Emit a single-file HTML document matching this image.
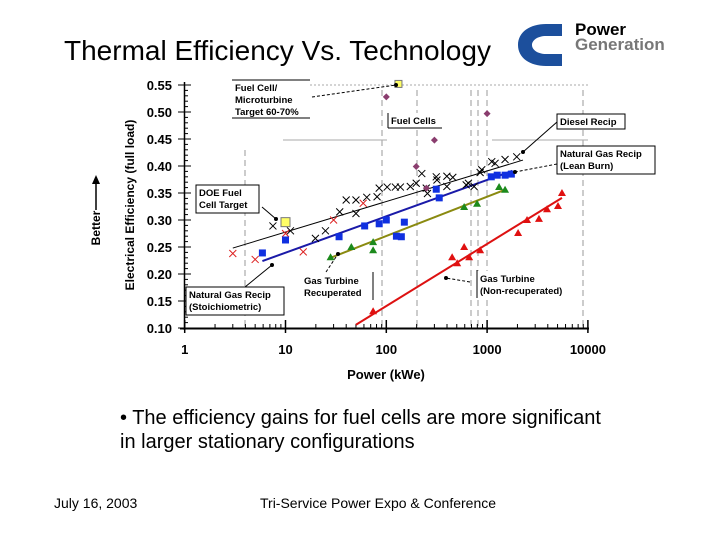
<!DOCTYPE html>
<html><head><meta charset="utf-8"><style>
body{margin:0;background:#fff;}
#wrap{position:relative;width:720px;height:540px;overflow:hidden;font-family:"Liberation Sans",Arial,sans-serif;}
.t{position:absolute;white-space:nowrap;}
</style></head><body>
<div id="wrap">
<div class="t" style="left:64px;top:35px;font-size:28px;">Thermal Efficiency Vs. Technology</div>
<svg style="position:absolute;left:516px;top:20px" width="170" height="48">
<path d="M30 4 C14 4 2 12 2 25 C2 38 14 46 30 46 L46 46 L46 34 L30 34 C22 34 16 30 16 25 C16 20 22 16 30 16 L46 16 L46 4 Z" fill="#1c4f9c"/>
<text x="59" y="15" font-family="Liberation Sans" font-weight="bold" font-size="17" fill="#000">Power</text>
<text x="59" y="30" font-family="Liberation Sans" font-weight="bold" font-size="17" fill="#777">Generation</text>
</svg>
<svg id="chart" style="position:absolute;left:0;top:0" width="720" height="400"></svg>
<div class="t" style="left:120px;top:406px;font-size:20px;line-height:24px;">• The efficiency gains for fuel cells are more significant<br>in larger stationary configurations</div>
<div class="t" style="left:54px;top:495px;font-size:14px;">July 16, 2003</div>
<div class="t" style="left:260px;top:495px;font-size:14px;">Tri-Service Power Expo &amp; Conference</div>
</div>
<script>
const xTicks=[1,10,100,1000,10000];
const yTicks=[0.10,0.15,0.20,0.25,0.30,0.35,0.40,0.45,0.50,0.55];
const blueP=[5.9,10,34,61,85,100,151,126,141,313,335,1100,1260,1510,1740];
const blueE=[0.239,0.263,0.269,0.289,0.293,0.300,0.296,0.270,0.269,0.357,0.341,0.380,0.383,0.383,0.385];
const greenP=[28,45,74,74,592,795,1315,1507];
const greenE=[0.231,0.250,0.259,0.244,0.324,0.330,0.361,0.356];
const redP=[74,450,505,592,664,853,2030,2490,3270,3930,5050,5530];
const redE=[0.131,0.231,0.220,0.250,0.231,0.244,0.276,0.300,0.302,0.320,0.326,0.350];
const dieselP=[7.5,11.2,19.8,24.9,34.5,40,50,50,64,81,85,102,123,138,173,198,225,249,256,313,318,399,399,457,620,653,743,853,885,1112,1200,1507,1968];
const dieselE=[0.289,0.280,0.266,0.280,0.315,0.337,0.312,0.337,0.342,0.343,0.359,0.361,0.361,0.361,0.362,0.368,0.386,0.359,0.349,0.380,0.374,0.381,0.362,0.379,0.365,0.368,0.362,0.388,0.393,0.408,0.405,0.412,0.417];
const stoichP=[3,5,10,15,30,59];
const stoichE=[0.238,0.227,0.275,0.241,0.300,0.331];
const fcP=[100,1000,300,198,250];
const fcE=[0.528,0.497,0.448,0.399,0.359];
const targetP=[132,10];
const targetE=[0.552,0.296];
const lineBlueP=[5.9,1780],lineBlueE=[0.224,0.391];
const lineGreenP=[28,1500],lineGreenE=[0.230,0.356];
const lineRedP=[50,5530],lineRedE=[0.106,0.341];
const lineDieselP=[3,2270],lineDieselE=[0.248,0.411];

const NS='http://www.w3.org/2000/svg';
const svg=document.getElementById('chart');
const X=p=>184.7+100.8*Math.log10(p);
const Y=e=>85+(0.55-e)*540;
function mk(tag,at,parent){const el=document.createElementNS(NS,tag);for(const k in at)el.setAttribute(k,at[k]);(parent||svg).appendChild(el);return el;}
[[245,150,328],[382,90,328],[417,90,328],[471,90,328],[478,90,328],[487,90,328],[583,90,328]].forEach(v=>{
 const l=mk('line',{x1:v[0],x2:v[0],y1:v[1],y2:v[2],stroke:'#999','stroke-dasharray':'6,4','stroke-width':1});
 });
[[310,588,85],[283,387,140],[492,588,140]].forEach(h=>{const l=mk('line',{x1:h[0],x2:h[1],y1:h[2],y2:h[2],stroke:'#aaa','stroke-width':1,'stroke-dasharray':h[2]==85?'2,2':''});
 });
let a=mk('line',{x1:184.5,x2:184.5,y1:82,y2:330,stroke:'#000','stroke-width':1.5});
a=mk('line',{x1:180,x2:589,y1:328.5,y2:328.5,stroke:'#000','stroke-width':2});
for(let e=0.10;e<=0.5501;e+=0.01){const y=Y(e);const maj=Math.abs(e*20-Math.round(e*20))<1e-6;mk('line',{x1:maj?178:184,x2:maj?191:188,y1:y,y2:y,stroke:'#000','stroke-width':1});}
yTicks.forEach(v=>{const t=mk('text',{x:172,y:Y(v)+5,'text-anchor':'end','font-size':13,'font-weight':'bold','font-family':'Liberation Sans'});t.textContent=v.toFixed(2);
 });
for(let d=0;d<4;d++)for(let m=2;m<10;m++){const x=X(m*Math.pow(10,d));mk('line',{x1:x,x2:x,y1:324,y2:328,stroke:'#000'});}
xTicks.forEach(v=>{const x=X(v);mk('line',{x1:x,x2:x,y1:320,y2:333,stroke:'#000','stroke-width':1.5});
 const t=mk('text',{x:x,y:354,'text-anchor':'middle','font-size':13,'font-weight':'bold','font-family':'Liberation Sans'});t.textContent=v;
 });
let t=mk('text',{x:386,y:379,'text-anchor':'middle','font-size':13,'font-weight':'bold','font-family':'Liberation Sans'});t.textContent='Power (kWe)';

t=mk('text',{x:0,y:0,'text-anchor':'middle','font-size':12,'font-weight':'bold','font-family':'Liberation Sans',transform:'translate(134,205) rotate(-90)'});t.textContent='Electrical Efficiency (full load)';

t=mk('text',{x:0,y:0,'text-anchor':'middle','font-size':12,'font-weight':'bold','font-family':'Liberation Sans',transform:'translate(100,228) rotate(-90)'});t.textContent='Better';

mk('line',{x1:96,x2:96,y1:210,y2:180,stroke:'#000','stroke-width':1.5});mk('path',{d:'M92 184 L96 175 L100 184 Z',fill:'#000'});
function tl(P,E,c,w,name){const l=mk('line',{x1:X(P[0]),y1:Y(E[0]),x2:X(P[1]),y2:Y(E[1]),stroke:c,'stroke-width':w});}
tl(lineDieselP,lineDieselE,'#000',1,'trend-diesel');
tl(lineBlueP,lineBlueE,'#1a1aa8',2,'trend-lean-burn');
tl(lineGreenP,lineGreenE,'#8a8a10',2,'trend-recuperated');
tl(lineRedP,lineRedE,'#dd1111',2,'trend-non-recuperated');
function xs(P,E,c,name){P.forEach((p,i)=>{const x=X(p),y=Y(E[i]);const g=mk('path',{d:`M${x-3.5} ${y-3.5}L${x+3.5} ${y+3.5}M${x-3.5} ${y+3.5}L${x+3.5} ${y-3.5}`,stroke:c,'stroke-width':1});
 });}
xs(dieselP,dieselE,'#000','diesel-point');
xs(stoichP,stoichE,'#dd2222','stoich-point');
blueP.forEach((p,i)=>{const r=mk('rect',{x:X(p)-3.5,y:Y(blueE[i])-3.5,width:7,height:7,fill:'#1030e0'});});
function tri(P,E,c,name){P.forEach((p,i)=>{const x=X(p),y=Y(E[i]);const g=mk('path',{d:`M${x} ${y-4}L${x+4} ${y+3}L${x-4} ${y+3}Z`,fill:c});});}
tri(greenP,greenE,'#1c8a1c','recuperated-point');
tri(redP,redE,'#e01010','non-recuperated-point');
fcP.forEach((p,i)=>{const x=X(p),y=Y(fcE[i]);const g=mk('path',{d:`M${x} ${y-3.5}L${x+3.5} ${y}L${x} ${y+3.5}L${x-3.5} ${y}Z`,fill:'#8a3d6e'});});
targetP.forEach((p,i)=>{const s=i==0?7:9;const r=mk('rect',{x:X(p)-s/2,y:Y(targetE[i])-s/2,width:s,height:s,fill:'#ffff66',stroke:'#777'});});
function box(x,y,w,h,lines,name,sides){const g=mk('g',{});
 mk('rect',{x:x,y:y,width:w,height:h,fill:'#fff',stroke:sides=='all'?'#000':'none'},g);
 if(sides!='all'){sides.forEach(s=>{mk('line',{x1:s[0],y1:s[1],x2:s[2],y2:s[3],stroke:'#000'},g);});}
 lines.forEach((L,i)=>{const tt=mk('text',{x:x+3,y:y+11+i*12,'font-size':9.5,'font-weight':'bold','font-family':'Liberation Sans'},g);tt.textContent=L;});}
box(232,80,78,38,['Fuel Cell/','Microturbine','Target 60-70%'],'label-fuel-cell-target',[[232,80,310,80],[232,118,310,118]]);
box(388,113,54,15,['Fuel Cells'],'label-fuel-cells',[[388,113,388,128],[388,128,442,128]]);
box(557,114,68,15,['Diesel Recip'],'label-diesel-recip','all');
box(557,146,98,28,['Natural Gas Recip','(Lean Burn)'],'label-lean-burn','all');
box(196,185,63,28,['DOE Fuel','Cell Target'],'label-doe-target','all');
box(186,287,98,28,['Natural Gas Recip','(Stoichiometric)'],'label-stoich','all');
box(301,273,71,27,['Gas Turbine','Recuperated'],'label-recuperated',[[373,272,373,300]]);
box(477,271,97,27,['Gas Turbine','(Non-recuperated)'],'label-non-recuperated',[[477,270,477,298]]);
[[312,97,396,85,1],[557,122,523,152,0],[557,164,515,172,1],[262,207,276,219,0],[245,287,272,265,0],[326,272,338,254,1],[470,282,446,278,1]].forEach(s=>{
 const l=mk('line',{x1:s[0],y1:s[1],x2:s[2],y2:s[3],stroke:'#000','stroke-dasharray':s[4]?'3,2':''});
 mk('circle',{cx:s[2],cy:s[3],r:2,fill:'#000'});});
</script>
</body></html>
